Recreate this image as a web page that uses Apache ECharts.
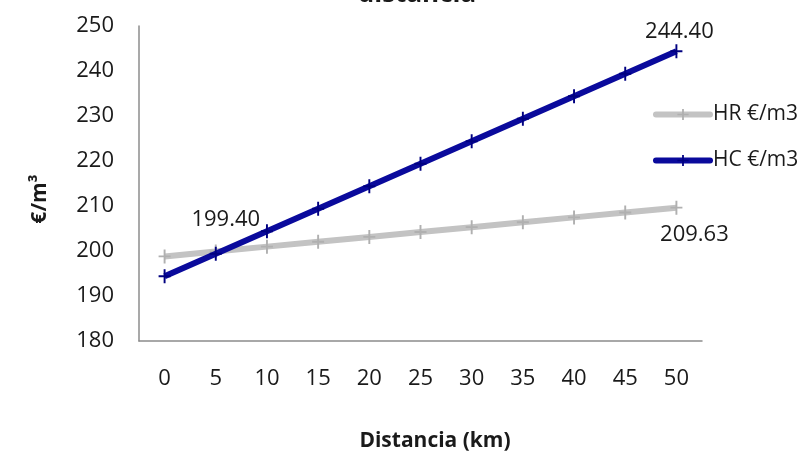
<!DOCTYPE html>
<html>
<head>
<meta charset="utf-8">
<script src="https://cdn.jsdelivr.net/npm/echarts@6/dist/echarts.min.js"></script>
<style>
html,body{margin:0;padding:0;background:#fff;}
#chart{width:804px;height:455px;}
</style>
</head>
<body>
<div id="chart"></div>
<script>
const categories = ['0','5','10','15','20','25','30','35','40','45','50'];
const hrValues = [198.80, 199.88, 200.97, 202.05, 203.13, 204.22, 205.30, 206.38, 207.47, 208.55, 209.63];
const hcValues = [194.40, 199.40, 204.40, 209.40, 214.40, 219.40, 224.40, 229.40, 234.40, 239.40, 244.40];
const seriesNames = ['HR €/m3', 'HC €/m3'];
const yTicks = [180, 190, 200, 210, 220, 230, 240, 250];

const FONT = '"Open Sans", "Noto Sans", sans-serif';
const plusPath = 'path://M4.2,0H5.8V12H4.2Z M0,5.2H10V6.8H0Z';

function withLabel(values, idx, offset) {
  return values.map((v, i) => {
    if (!idx.includes(i)) return v;
    const o = offset[idx.indexOf(i)];
    return {
      value: v,
      label: {
        show: true,
        position: 'inside',
        offset: o,
        formatter: (p) => p.value.toFixed(2),
        color: '#1a1a1a',
        fontSize: 22,
        fontFamily: FONT
      }
    };
  });
}

const chart = echarts.init(document.getElementById('chart'), null, {renderer: 'canvas'});
chart.setOption({
  animation: false,
  backgroundColor: '#ffffff',
  grid: {left: 139, right: 102, top: 26, bottom: 114},
  legend: {
    orient: 'vertical',
    left: 648,
    top: 99,
    itemWidth: 54,
    itemHeight: 14,
    itemGap: 25,
    lineStyle: {width: 6, cap: 'round'},
    textStyle: {fontSize: 21, fontFamily: FONT, color: '#1a1a1a', padding: [0,0,0,-2]},
    data: seriesNames
  },
  xAxis: {
    type: 'category',
    data: categories,
    boundaryGap: true,
    axisLine: {lineStyle: {color: '#8c8c8c', width: 1.5}},
    axisTick: {show: false},
    axisLabel: {fontSize: 22, fontFamily: FONT, color: '#1a1a1a', margin: 27}
  },
  yAxis: {
    type: 'value',
    min: yTicks[0],
    max: yTicks[yTicks.length - 1],
    interval: 10,
    axisLine: {show: true, lineStyle: {color: '#8c8c8c', width: 1.5}},
    axisTick: {show: false},
    splitLine: {show: false},
    axisLabel: {fontSize: 22, fontFamily: FONT, color: '#1a1a1a', margin: 25}
  },
  graphic: [
    {
      type: 'text',
      x: 40, y: 199,
      rotation: Math.PI / 2,
      style: {
        text: '€/m³',
        font: 'bold 21px ' + FONT,
        fill: '#1a1a1a',
        align: 'center',
        verticalAlign: 'middle'
      }
    },
    {
      type: 'text',
      x: 435, y: 441,
      style: {
        text: 'Distancia (km)',
        font: 'bold 21px ' + FONT,
        fill: '#1a1a1a',
        align: 'center',
        verticalAlign: 'middle'
      }
    },
    {
      type: 'text',
      x: 417, y: 8,
      style: {
        text: 'distancia',
        font: 'bold 26px ' + FONT,
        fill: '#1a1a1a',
        align: 'center',
        verticalAlign: 'bottom'
      }
    }
  ],
  series: [
    {
      name: seriesNames[0],
      type: 'line',
      data: withLabel(hrValues, [10], [[18, 27]]),
      lineStyle: {color: '#c3c3c3', width: 6},
      itemStyle: {color: '#b0b0b0'},
      symbol: plusPath,
      symbolSize: [12, 14],
      showAllSymbol: true,
      z: 2
    },
    {
      name: seriesNames[1],
      type: 'line',
      data: withLabel(hcValues, [1, 10], [[10, -34], [3, -19]]),
      lineStyle: {color: '#0a0a9c', width: 6},
      itemStyle: {color: '#000080'},
      symbol: plusPath,
      symbolSize: [12, 14],
      showAllSymbol: true,
      z: 3
    }
  ]
});
</script>
</body>
</html>
